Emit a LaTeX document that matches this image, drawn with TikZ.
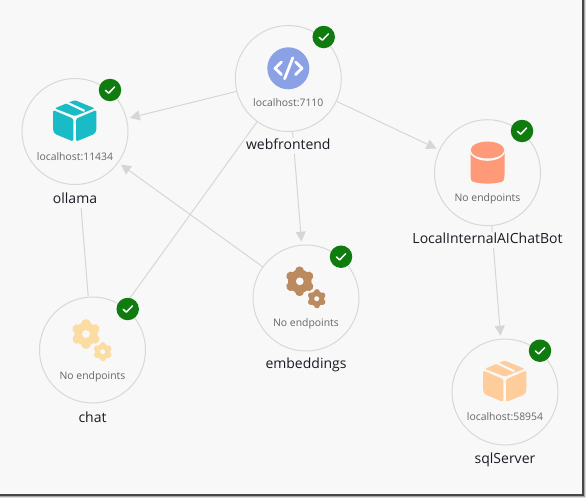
\documentclass[tikz,border=0pt]{standalone}
\usepackage{fontspec}
\setmainfont{Open Sans}
\usetikzlibrary{arrows.meta,calc}
\definecolor{bg}{HTML}{F8F8F8}
\definecolor{ring}{HTML}{D8D8D8}
\definecolor{conn}{HTML}{D6D6D6}
\definecolor{okgreen}{HTML}{107C10}
\definecolor{subtxt}{HTML}{666666}
\definecolor{maintxt}{HTML}{1B1A24}
\definecolor{codeblue}{HTML}{8AA1E6}
\definecolor{boxteal}{HTML}{19BCC6}
\definecolor{boxpeach}{HTML}{FFCD9B}
\definecolor{gearbrown}{HTML}{BC8A5F}
\definecolor{gearyellow}{HTML}{FBDDA3}
\definecolor{dbred}{HTML}{FF9A78}
\tikzset{
  res/.style={circle,draw=ring,line width=1pt,minimum size=106pt,inner sep=0pt},
  plainlink/.style={draw=conn,line width=1pt},
  link/.style={plainlink,-{Triangle[length=10pt,width=10pt,color=conn]},shorten >=3pt},
  sublabel/.style={font=\fontsize{10.4}{12}\selectfont,text=subtxt,inner sep=0pt,text height=8pt,text depth=2.2pt},
  mainlabel/.style={font=\fontsize{14}{16}\selectfont,text=maintxt,fill=bg,inner sep=1pt,text height=10.8pt,text depth=3.2pt},
  badge/.style={circle,fill=okgreen,minimum size=22.5pt,inner sep=0pt},
}
\newcommand{\boxicon}[3]{%
  \begin{scope}[shift={(#1,#2)}]
    \fill[#3,rounded corners=1.5pt] (-22,-21.5) -- (-1.7,-12.8) -- (-1.7,10) -- (-20,2.5) -- (-22,-1) -- cycle;
    \fill[#3,rounded corners=1.5pt] (21.4,-21.5) -- (1.1,-12.8) -- (1.1,10) -- (19.4,2.5) -- (21.4,-1) -- cycle;
    \fill[#3,rounded corners=1.2pt] (-20.3,-23.2) -- (-0.3,-31.4) -- (19.7,-23.2) -- (-0.3,-15.4) -- cycle;
    \draw[bg,line width=2.2pt] (-9,-29.4) -- (9.5,-20.6);
  \end{scope}}
\newcommand{\gearicon}[4]{%
  \begin{scope}[shift={(#1,#2)}]
    \fill[#4] (0,0) circle ({#3*0.76});
    \foreach \a in {90,150,210,270,330,30}
      \draw[#4,line width={#3*0.6pt},line cap=round] (0,0) -- (\a:{#3*0.66});
    \fill[bg] (0,0) circle ({#3*0.25});
  \end{scope}}
\newcommand{\okmark}[1]{%
  \draw[white,line width=1.5pt,line cap=round,line join=round] ($(#1)+(-4.5,0.3)$) -- ($(#1)+(-1.4,3.2)$) -- ($(#1)+(4.6,-3)$);}
\begin{document}
\begin{tikzpicture}[x=1pt,y=-1pt]
\useasboundingbox (0,0) rectangle (586,498);
\fill[black!12] (0,0) rectangle (586,498);
\fill[black!35] (0,0) rectangle (585,497);
\fill[black!72] (0,0) rectangle (583.5,495.5);
\fill[bg] (0,0) rectangle (582,494);
\node[res] (ollama) at (75,131.5) {};
\node[res] (web) at (288.3,78.5) {};
\node[res] (local) at (487.5,172.7) {};
\node[res] (emb) at (306,298) {};
\node[res] (chat) at (92.5,350) {};
\node[res] (sql) at (505,392) {};
\draw[link] (web) -- (ollama);
\draw[link] (web) -- (local);
\draw[link] (web) -- (emb);
\draw[link] (emb) -- (ollama);
\draw[link] (local) -- (sql);
\draw[link,shorten >=7pt] (chat) -- (ollama);
\draw[plainlink] (web) -- (chat);
\boxicon{75}{131.5}{boxteal}
\boxicon{505}{392}{boxpeach}
\node[circle,fill=codeblue,minimum size=42pt,inner sep=0pt] (codeicon) at (288.3,68.3) {};
\draw[white,line width=2.8pt,line cap=round,line join=round] (281.5,62) -- (275,68.3) -- (281.5,74.6);
\draw[white,line width=2.8pt,line cap=round,line join=round] (295.5,62) -- (302,68.3) -- (295.5,74.6);
\draw[white,line width=2.8pt,line cap=round] (292.8,57.8) -- (284.6,78.8);
\gearicon{299.8}{281.3}{15.5}{gearbrown}
\gearicon{316.7}{298.7}{10}{gearbrown}
\gearicon{86}{334}{15.5}{gearyellow}
\gearicon{102.7}{351.7}{10}{gearyellow}
\fill[dbred,rounded corners=3pt] (470.5,150) -- (470.5,178) .. controls (472,182) and (480,183.5) .. (487.5,183.5) .. controls (495,183.5) and (503,182) .. (504.5,178) -- (504.5,150) -- cycle;
\fill[bg] (487.5,150) ellipse (18 and 10.8);
\fill[dbred] (487.5,150) ellipse (16.8 and 8.4);
\node[sublabel] (ollamaS) at (75,157.5) {localhost:11434};
\node[sublabel] (webS) at (288.3,104) {localhost:7110};
\node[sublabel] (localS) at (487.5,198.5) {No endpoints};
\node[sublabel] (embS) at (306,323.5) {No endpoints};
\node[sublabel] (chatS) at (92.5,376.5) {No endpoints};
\node[sublabel] (sqlS) at (505,417.5) {localhost:58954};
\node[mainlabel] (ollamaL) at (75,199.5) {ollama};
\node[mainlabel] (webL) at (288.3,146) {webfrontend};
\node[mainlabel] (localL) at (487.5,240) {LocalInternalAIChatBot};
\node[mainlabel] (embL) at (306,365) {embeddings};
\node[mainlabel] (chatL) at (92.5,418.5) {chat};
\node[mainlabel] (sqlL) at (505,459.5) {sqlServer};
\foreach \n/\x/\y in {b1/110/90,b2/323.7/37,b3/522/131,b4/341/256.7,b5/127.7/309,b6/540/350.7}{
  \node[badge] (\n) at (\x,\y) {};
  \okmark{\n}
}
\end{tikzpicture}
\end{document}
